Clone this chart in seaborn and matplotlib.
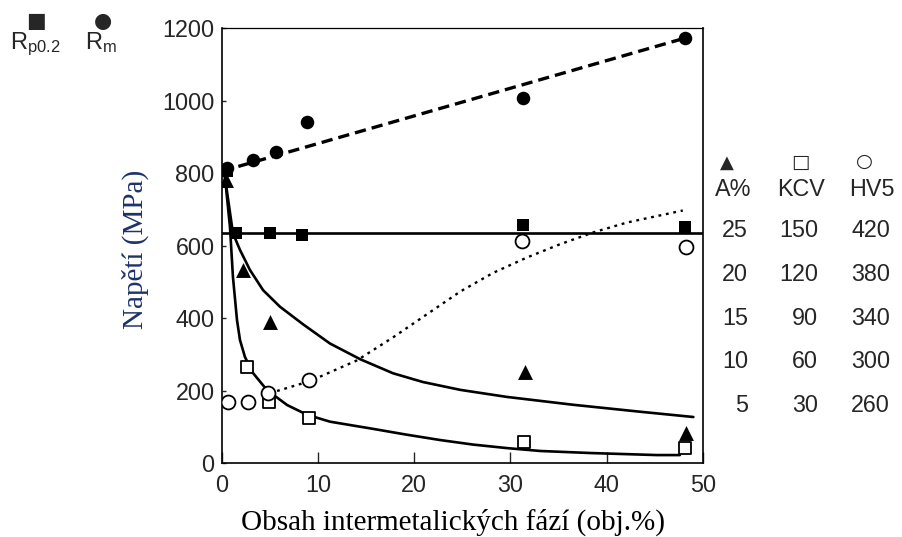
import matplotlib
matplotlib.use("Agg")
import matplotlib.pyplot as plt
import seaborn as sns

# ---------------- data ----------------
# strength (MPa), left axis
rm_x = [0.6, 3.3, 5.6, 8.9, 31.3, 48.1]
rm_y = [814, 836, 858, 941, 1007, 1172]
rm_fit_x = [0.0, 48.1]
rm_fit_y = [805, 1172]

rp_x = [0.6, 1.5, 5.0, 8.3, 31.3, 48.1]
rp_y = [805, 634, 634, 629, 656, 651]
rp_fit_x = [0.0, 50.0]
rp_fit_y = [634, 634]

# elongation A% (secondary scale)
a_x = [0.5, 2.2, 5.0, 31.5, 48.2]
a_y = [30.5, 20.2, 14.3, 8.5, 1.6]
a_fit_x = [0.34, 1.17, 1.9, 2.94, 4.3, 6.06, 8.45, 11.25, 14.4, 17.8, 20.9,
           24.8, 29.6, 36.5, 43.5, 49.0]
a_fit_y = [30.8, 24.4, 22.5, 20.2, 17.9, 16.0, 14.0, 11.8, 10.0, 8.4, 7.4,
           6.5, 5.7, 4.8, 4.0, 3.4]

# impact energy KCV (secondary scale)
kcv_x = [2.6, 4.9, 9.1, 31.4, 48.1]
kcv_y = [55, 30.7, 19.7, 3.3, -0.9]
kcv_fit_x = [0.34, 0.86, 1.17, 1.59, 1.9, 2.42, 3.25, 4.7, 6.8, 8.85, 11.25,
             15.7, 19.2, 22.7, 26.1, 29.6, 33.1, 38.3, 45.2, 47.6]
kcv_fit_y = [185, 150.7, 116.4, 86.9, 73.2, 61.5, 50.6, 38.9, 28.6, 22.0, 17.2,
             12.3, 8.3, 4.6, 1.5, -0.9, -2.9, -4.3, -5.7, -5.7]

# hardness HV5 (secondary scale)
hv_x = [0.7, 2.7, 4.8, 9.1, 31.2, 48.2]
hv_y = [261, 261, 269, 281, 408, 403]
hv_fit_x = [5.0, 9.17, 14.06, 17.8, 21.3, 24.8, 28.2, 31.7, 35.1, 38.6, 42.1, 47.9]
hv_fit_y = [269, 280, 299, 320, 341, 362, 379, 393, 405, 416, 425, 436]

x_ticks = [0, 10, 20, 30, 40, 50]
y_ticks = [0, 200, 400, 600, 800, 1000, 1200]
a_ticks = [5, 10, 15, 20, 25]
kcv_ticks = [30, 60, 90, 120, 150]
hv_ticks = [260, 300, 340, 380, 420]

# ---------------- style ----------------
sns.set_style("ticks")
plt.rcParams["font.family"] = ["Liberation Sans", "DejaVu Sans"]
plt.rcParams["mathtext.default"] = "regular"

TICK_FS = 16.8
fig = plt.figure(figsize=(9.03, 5.37), dpi=100)
ax = fig.add_axes([0.2455, 0.1378, 0.533, 0.810])

# main axis lines
sns.lineplot(x=rm_fit_x, y=rm_fit_y, ax=ax, color="black", linewidth=2.4,
             linestyle=(0, (3.4, 1.8)), estimator=None)
sns.lineplot(x=rp_fit_x, y=rp_fit_y, ax=ax, color="black", linewidth=1.9,
             estimator=None)
sns.scatterplot(x=rm_x, y=rm_y, ax=ax, marker="o", s=95, color="black",
                edgecolor="black", linewidth=0, zorder=4)
sns.scatterplot(x=rp_x, y=rp_y, ax=ax, marker="s", s=80, color="black",
                edgecolor="black", linewidth=0, zorder=4)

ax.set_xlim(0, 50)
ax.set_ylim(0, 1200)
ax.set_xticks(x_ticks)
ax.set_yticks(y_ticks)
ax.tick_params(axis="x", direction="in", length=8, width=1, labelsize=TICK_FS, pad=8)
ax.tick_params(axis="y", direction="in", length=3, width=1, labelsize=TICK_FS, pad=5)
for sp in ax.spines.values():
    sp.set_visible(True)
    sp.set_linewidth(1.2)
    sp.set_color("black")
ax.spines["top"].set_linewidth(0.9)

ax.set_xlabel("Obsah intermetalických fází (obj.%)", family=["Liberation Serif"],
              fontsize=21, color="black")
ax.xaxis.set_label_coords(0.481, -0.136)
ax.xaxis.label.set_va("center")
ax.set_ylabel("Napětí (MPa)", family=["Liberation Serif"], fontsize=21,
              color="#1d3269")
ax.yaxis.set_label_coords(-0.180, 0.490)
ax.yaxis.label.set_va("center")


def secondary(lims, ticks, pad_pt):
    t = ax.twinx()
    t.set_ylim(*lims)
    t.set_yticks(ticks)
    t.tick_params(axis="y", length=0, labelsize=TICK_FS, pad=pad_pt)
    for lbl in t.get_yticklabels():
        lbl.set_horizontalalignment("right")
    for sp in t.spines.values():
        sp.set_visible(False)
    return t


ax_a = secondary((-1.857, 47.86), a_ticks, 32.4)
ax_k = secondary((-11.14, 287.14), kcv_ticks, 82.8)
ax_h = secondary((205.14, 602.86), hv_ticks, 134.6)

sns.lineplot(x=a_fit_x, y=a_fit_y, ax=ax_a, color="black", linewidth=1.9,
             estimator=None)
sns.scatterplot(x=a_x, y=a_y, ax=ax_a, marker="^", s=115, color="black",
                edgecolor="black", linewidth=0, zorder=4)

sns.lineplot(x=kcv_fit_x, y=kcv_fit_y, ax=ax_k, color="black", linewidth=1.9,
             estimator=None)
sns.scatterplot(x=kcv_x, y=kcv_y, ax=ax_k, marker="s", s=80, color="white",
                edgecolor="black", linewidth=1.3, zorder=4)

sns.lineplot(x=hv_fit_x, y=hv_fit_y, ax=ax_h, color="black", linewidth=1.7,
             linestyle=(0, (1.2, 2.0)), estimator=None)
sns.scatterplot(x=hv_x, y=hv_y, ax=ax_h, marker="o", s=100, color="white",
                edgecolor="black", linewidth=1.3, zorder=4)

for t in (ax_a, ax_k, ax_h):
    t.set_ylabel("")

# ---------------- key texts ----------------
W, H = 903.0, 537.0
def ftext(px, py, s, **kw):
    fig.text(px / W, 1 - py / H, s, **kw)

ftext(36, 21, "■", ha="center", va="center", fontsize=15, family=["DejaVu Sans"])
ftext(103, 21, "●", ha="center", va="center", fontsize=15, family=["DejaVu Sans"])
ftext(10, 49, "R$_{p0.2}$", ha="left", va="baseline", fontsize=17)
ftext(85, 49, "R$_{m}$", ha="left", va="baseline", fontsize=17)

ftext(727, 163, "▲", ha="center", va="center", fontsize=13, family=["DejaVu Sans"])
ftext(800, 162, "□", ha="center", va="center", fontsize=14, family=["DejaVu Sans"])
ftext(864, 161, "○", ha="center", va="center", fontsize=14, family=["DejaVu Sans"])
ftext(733, 190, "A%", ha="center", va="center", fontsize=TICK_FS)
ftext(801, 190, "KCV", ha="center", va="center", fontsize=TICK_FS)
ftext(872, 190, "HV5", ha="center", va="center", fontsize=TICK_FS)

fig.savefig("out.png", dpi=100)
